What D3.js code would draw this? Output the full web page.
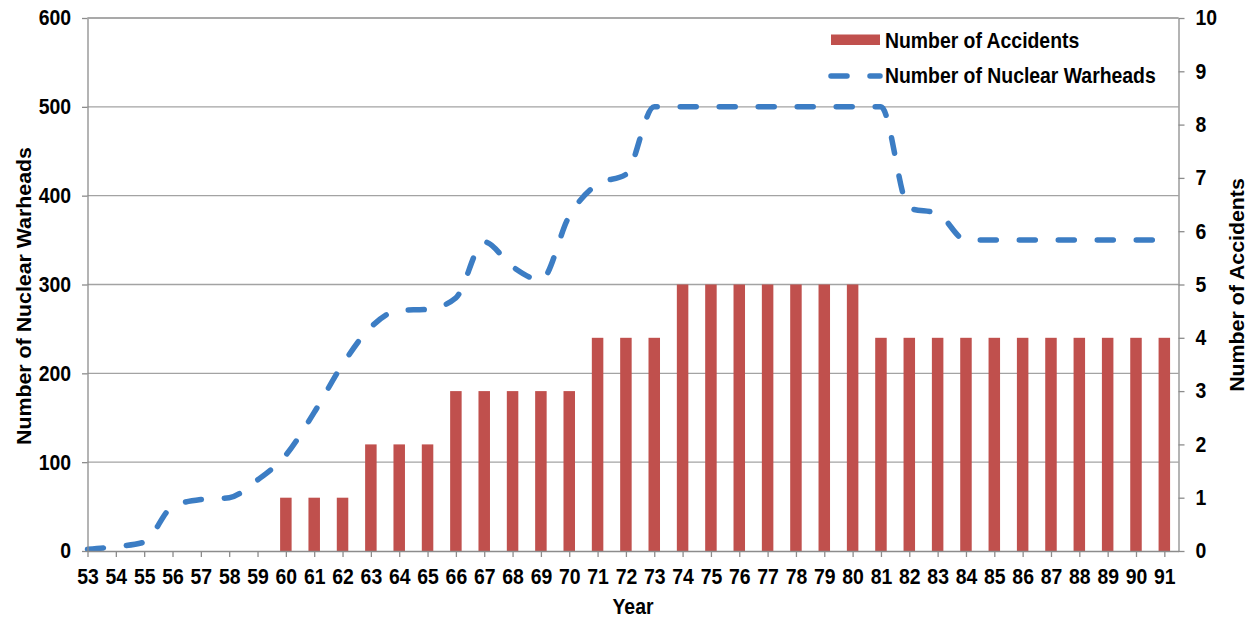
<!DOCTYPE html>
<html lang="en">
<head>
<meta charset="UTF-8">
<title>Nuclear Warheads and Accidents</title>
<script src="https://d3js.org/d3.v7.min.js"></script>
<style>
  body { margin: 0; background: #fff; }
  svg text { font-family: "Liberation Sans", Arial, sans-serif; font-weight: bold; fill: #000; }
  .stretch { transform-box: fill-box; transform-origin: center; transform: scaleY(1.1); }
</style>
</head>
<body>
<svg width="1253" height="618"></svg>
<script>
  // data
  const years = [53,54,55,56,57,58,59,60,61,62,63,64,65,66,67,68,69,70,71,72,
                 73,74,75,76,77,78,79,80,81,82,83,84,85,86,87,88,89,90,91];
  const accidents = [0,0,0,0,0,0,0,1,1,1,2,2,2,3,3,3,3,3,4,4,
                     4,5,5,5,5,5,5,5,4,4,4,4,4,4,4,4,4,4,4];
  const warheads = [2,5,10,50,58,60,80,108,156,210,252,271,272,285,348,320,305,377,413,424,
                    500,500,500,500,500,500,500,500,500,386,380,350,350,350,350,350,350,350,350];
  const leftTicks = [0,100,200,300,400,500,600];
  const rightTicks = [0,1,2,3,4,5,6,7,8,9,10];

  const svg = d3.select("svg");
  const plotL = 87.5, plotR = 1178.5, plotT = 18, plotB = 551;
  const fs = 19.4;

  const x = d3.scaleLinear().domain([53, 91.5]).range([plotL, plotR]);
  const yL = d3.scaleLinear().domain([0, 600]).range([plotB, plotT]);
  const yR = d3.scaleLinear().domain([0, 10]).range([plotB, plotT]);

  // gridlines
  svg.append("g").selectAll("line")
    .data(leftTicks.filter(d => d > 0))
    .enter().append("line")
    .attr("x1", plotL).attr("x2", plotR)
    .attr("y1", d => yL(d)).attr("y2", d => yL(d))
    .attr("stroke", "#a3a3a3").attr("stroke-width", 1.3);

  // bars
  const barW = 11.5;
  svg.append("g").selectAll("rect")
    .data(years.map((y, i) => ({year: y, v: accidents[i]})).filter(d => d.v > 0))
    .enter().append("rect")
    .attr("x", d => x(d.year) - barW / 2)
    .attr("width", barW)
    .attr("y", d => yR(d.v))
    .attr("height", d => plotB - yR(d.v))
    .attr("fill", "#c0504d");

  // line
  const line = d3.line()
    .x((d, i) => x(years[i]))
    .y(d => yL(d))
    .curve(d3.curveMonotoneX);

  svg.append("path")
    .datum(warheads)
    .attr("d", line)
    .attr("fill", "none")
    .attr("stroke", "#3c7dc4")
    .attr("stroke-width", 5.5)
    .attr("stroke-linecap", "round")
    .attr("stroke-dasharray", "16 23");

  // axes
  function styleAxis(g) {
    g.selectAll("path.domain").attr("stroke", "#8c8c8c").attr("stroke-width", 1.3);
    g.selectAll(".tick line").attr("stroke", "#8c8c8c").attr("stroke-width", 1.3);
    g.selectAll(".tick text").attr("font-size", fs).attr("class", "stretch");
  }

  svg.append("g")
    .attr("transform", `translate(${plotL},0)`)
    .call(d3.axisLeft(yL).tickValues(leftTicks).tickSize(5.5).tickSizeOuter(0).tickPadding(11))
    .call(styleAxis);

  svg.append("g")
    .attr("transform", `translate(${plotR},0)`)
    .call(d3.axisRight(yR).tickValues(rightTicks).tickSize(6).tickSizeOuter(0).tickPadding(11))
    .call(styleAxis);

  svg.append("g")
    .attr("transform", `translate(0,${plotB})`)
    .call(d3.axisBottom(x).tickValues(years).tickSize(6).tickSizeOuter(0).tickPadding(13))
    .call(styleAxis);

  // top border line
  svg.append("line")
    .attr("x1", plotL).attr("x2", plotR).attr("y1", plotT).attr("y2", plotT)
    .attr("stroke", "#a3a3a3").attr("stroke-width", 1.3);

  // titles
  svg.append("text")
    .attr("transform", "translate(31,296) rotate(-90) scale(1.1,1)")
    .attr("text-anchor", "middle")
    .attr("font-size", fs)
    .text("Number of Nuclear Warheads");

  svg.append("text")
    .attr("transform", "translate(1244,285) rotate(-90) scale(1.1,1)")
    .attr("text-anchor", "middle")
    .attr("font-size", fs)
    .text("Number of Accidents");

  svg.append("text")
    .attr("class", "stretch")
    .attr("x", (plotL + plotR) / 2).attr("y", 613)
    .attr("text-anchor", "middle")
    .attr("font-size", fs)
    .text("Year");

  // legend
  const lg = svg.append("g");
  lg.append("rect")
    .attr("x", 831).attr("y", 34.5).attr("width", 49).attr("height", 10.5)
    .attr("fill", "#c0504d");
  lg.append("text")
    .attr("class", "stretch")
    .attr("x", 885).attr("y", 47).attr("font-size", fs)
    .text("Number of Accidents");
  lg.append("line")
    .attr("x1", 831).attr("x2", 880).attr("y1", 76).attr("y2", 76)
    .attr("stroke", "#3c7dc4").attr("stroke-width", 5.5)
    .attr("stroke-linecap", "round").attr("stroke-dasharray", "16 23");
  lg.append("text")
    .attr("class", "stretch")
    .attr("x", 885).attr("y", 82).attr("font-size", fs)
    .text("Number of Nuclear Warheads");
</script>
</body>
</html>
